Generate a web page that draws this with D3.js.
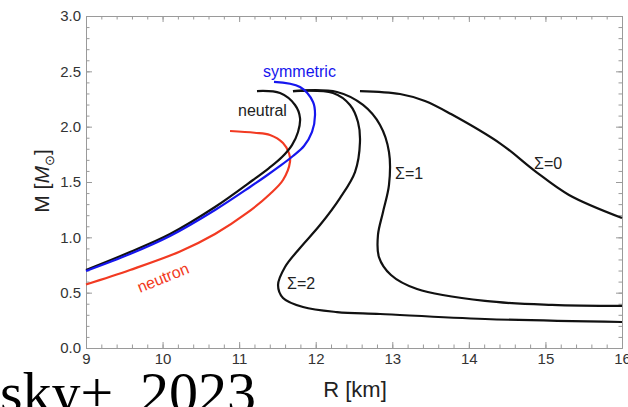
<!DOCTYPE html>
<html>
<head>
<meta charset="utf-8">
<script src="https://cdn.jsdelivr.net/npm/d3@7"></script>
<style>
  body { margin: 0; background: #fff; }
  svg { display: block; font-family: "Liberation Sans", Arial, sans-serif; }
</style>
</head>
<body>
<div class="chart"></div>
<script>
// mass-radius curves, [R km, M Msun]
const symmetric = [[11.455, 2.404], [11.795, 2.358], [11.965, 2.223], [11.991, 2.105], [11.952, 1.952],
    [11.847, 1.825], [11.703, 1.735], [11.534, 1.645], [11.351, 1.554], [11.142, 1.455],
    [10.685, 1.247], [10.097, 1.012], [9.575, 0.849], [9.0, 0.696]];
const neutral = [[11.233, 2.322], [11.534, 2.304], [11.730, 2.196], [11.795, 2.078], [11.769, 1.952],
    [11.690, 1.834], [11.560, 1.726], [11.390, 1.626], [11.181, 1.518], [10.685, 1.274],
    [10.097, 1.030], [9.575, 0.867], [9.0, 0.705]];
const neutron = [[10.881, 1.961], [11.200, 1.945], [11.403, 1.925], [11.573, 1.852], [11.651, 1.760],
    [11.664, 1.681], [11.573, 1.518], [11.403, 1.392], [11.103, 1.220], [10.685, 1.030],
    [10.228, 0.872], [9.575, 0.705], [9.0, 0.574]];
const sigma2 = [[11.703, 2.322], [12.226, 2.304], [12.448, 2.196], [12.552, 2.042], [12.578, 1.861],
    [12.513, 1.590], [12.317, 1.355], [12.056, 1.111], [11.795, 0.904], [11.599, 0.732],
    [11.508, 0.569], [11.573, 0.452], [11.834, 0.370], [12.278, 0.325], [12.840, 0.307],
    [14.211, 0.262], [16.0, 0.235]];
const sigma1 = [[11.703, 2.322], [12.278, 2.313], [12.618, 2.196], [12.840, 2.015], [12.957, 1.771],
    [12.957, 1.473], [12.879, 1.229], [12.813, 1.021], [12.826, 0.822], [12.983, 0.660],
    [13.323, 0.533], [14.211, 0.425], [15.086, 0.389], [16.0, 0.380]];
const sigma0 = [[12.578, 2.322], [13.101, 2.295], [13.427, 2.232], [13.767, 2.114], [14.420, 1.843],
    [14.864, 1.599], [15.308, 1.383], [16.0, 1.175]];

const xTicks = [9, 10, 11, 12, 13, 14, 15, 16];
const yTicks = [0, 0.5, 1.0, 1.5, 2.0, 2.5, 3.0];

const width = 628, height = 407;
const x = d3.scaleLinear().domain([9, 16]).range([86, 622]);
const y = d3.scaleLinear().domain([0, 3]).range([348, 16]);

const svg = d3.select(".chart").append("svg")
    .attr("width", width)
    .attr("height", height)
    .attr("viewBox", [0, 0, width, height]);

// minor ticks
const xMinor = d3.range(9, 16.001, 0.2);
const yMinor = d3.range(0, 3.001, 0.1);

function styleAxis(g) {
    g.selectAll("path, line").attr("stroke", "#9a9a9a");
    g.selectAll("text").attr("fill", "#333").attr("font-size", 15);
}

svg.append("g").attr("transform", "translate(0,348)")
    .call(d3.axisBottom(x).tickValues(xMinor).tickSize(-3.5).tickSizeOuter(0).tickFormat(""))
    .call(styleAxis);
svg.append("g").attr("transform", "translate(0,348)")
    .call(d3.axisBottom(x).tickValues(xTicks).tickSize(-6).tickSizeOuter(0).tickPadding(5).tickFormat(d3.format("d")))
    .call(styleAxis);
svg.append("g").attr("transform", "translate(0,16)")
    .call(d3.axisTop(x).tickValues(xMinor).tickSize(-3.5).tickSizeOuter(0).tickFormat(""))
    .call(styleAxis);
svg.append("g").attr("transform", "translate(0,16)")
    .call(d3.axisTop(x).tickValues(xTicks).tickSize(-6).tickSizeOuter(0).tickFormat(""))
    .call(styleAxis);
svg.append("g").attr("transform", "translate(86,0)")
    .call(d3.axisLeft(y).tickValues(yMinor).tickSize(-3.5).tickSizeOuter(0).tickFormat(""))
    .call(styleAxis);
svg.append("g").attr("transform", "translate(86,0)")
    .call(d3.axisLeft(y).tickValues(yTicks).tickSize(-6).tickSizeOuter(0).tickPadding(5).tickFormat(d3.format(".1f")))
    .call(styleAxis);
svg.append("g").attr("transform", "translate(622,0)")
    .call(d3.axisRight(y).tickValues(yMinor).tickSize(-3.5).tickSizeOuter(0).tickFormat(""))
    .call(styleAxis);
svg.append("g").attr("transform", "translate(622,0)")
    .call(d3.axisRight(y).tickValues(yTicks).tickSize(-6).tickSizeOuter(0).tickFormat(""))
    .call(styleAxis);

// curves
const line = d3.line()
    .x(d => x(d[0]))
    .y(d => y(d[1]))
    .curve(d3.curveCatmullRom.alpha(0.5));

const plot = svg.append("g");
const curves = [
    { data: sigma0, color: "#111" },
    { data: sigma1, color: "#111" },
    { data: sigma2, color: "#111" },
    { data: neutron, color: "#f23a22" },
    { data: neutral, color: "#111" },
    { data: symmetric, color: "#1616ee" }
];
plot.selectAll("path")
    .data(curves)
    .join("path")
    .attr("d", d => line(d.data))
    .attr("fill", "none")
    .attr("stroke", d => d.color)
    .attr("stroke-width", 2.2);

// curve labels
const labels = svg.append("g").attr("font-size", 16);
labels.append("text").attr("x", 263).attr("y", 77).attr("fill", "#1616ee").text("symmetric");
labels.append("text").attr("x", 238).attr("y", 116).attr("fill", "#222").text("neutral");
labels.append("text").attr("transform", "translate(140,293) rotate(-22)").attr("fill", "#f23a22").text("neutron");
labels.append("text").attr("x", 287).attr("y", 289).attr("fill", "#222").text("Σ=2");
labels.append("text").attr("x", 395).attr("y", 179).attr("fill", "#222").text("Σ=1");
labels.append("text").attr("x", 534).attr("y", 169).attr("fill", "#222").text("Σ=0");

// axis titles
svg.append("text")
    .attr("x", 355).attr("y", 397)
    .attr("text-anchor", "middle")
    .attr("font-size", 22).attr("fill", "#222")
    .text("R [km]");

const yTitle = svg.append("text")
    .attr("transform", "translate(49,181) rotate(-90)")
    .attr("text-anchor", "middle")
    .attr("font-size", 21).attr("fill", "#222");
yTitle.append("tspan").text("M [");
yTitle.append("tspan").attr("font-style", "italic").text("M");
yTitle.append("tspan").attr("font-size", 13).attr("dy", 5).text("⊙");
yTitle.append("tspan").attr("dy", -5).text("]");

// citation fragment overlapping the bottom
const cite = svg.append("text")
    .attr("y", 412)
    .attr("font-family", "'Liberation Serif', 'Times New Roman', serif")
    .attr("font-size", 58).attr("fill", "#000");
cite.append("tspan").attr("x", 0).text("sky+");
cite.append("tspan").attr("x", 140).text("2023");
</script>
</body>
</html>
